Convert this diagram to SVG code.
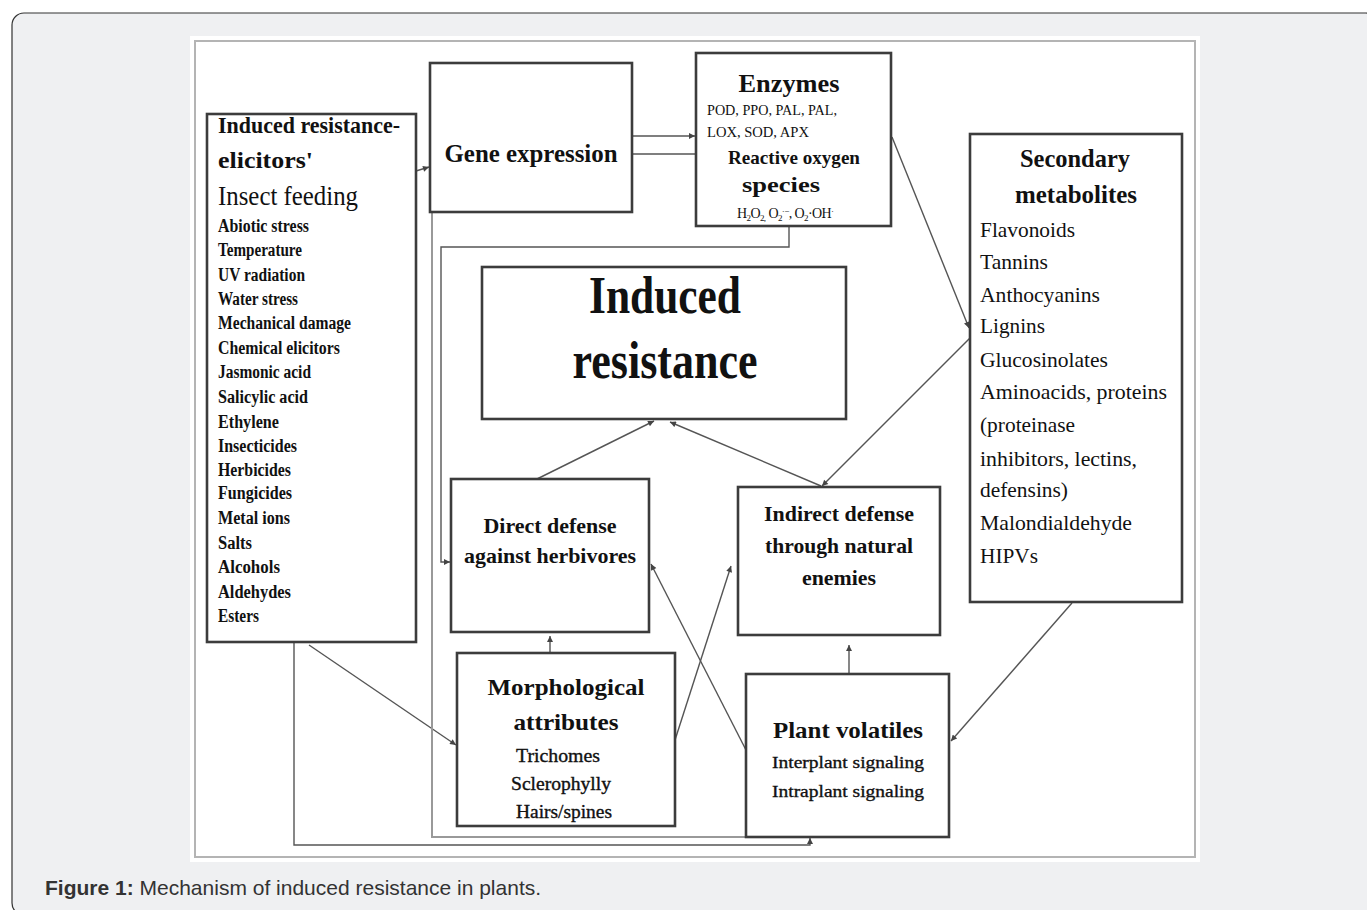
<svg xmlns="http://www.w3.org/2000/svg" width="1367" height="910" viewBox="0 0 1367 910">
<style>
.box{fill:#fff;stroke:#3c3c3c;stroke-width:2.6}
.t{font-family:"Liberation Serif","Times New Roman",serif;fill:#111}
.b{font-weight:bold}
.m{stroke:#111;stroke-width:0.35}
.c{text-anchor:middle}
.ln{fill:none;stroke:#555;stroke-width:1.4}
.gl{fill:none;stroke:#999;stroke-width:2}
.cap{font-family:"Liberation Sans",Arial,sans-serif;font-size:21px;fill:#333}
</style>
<defs>
<marker id="ah" viewBox="0 0 10 10" refX="10" refY="5" markerWidth="8" markerHeight="6" orient="auto" markerUnits="userSpaceOnUse"><path d="M0,0 L10,5 L0,10 z" fill="#444"/></marker>
</defs>
<rect x="12" y="13" width="1366" height="902" rx="12" fill="#eff0f2" stroke="#333" stroke-width="1.2"/>
<rect x="190" y="36" width="1010" height="826" fill="#fff"/>
<rect x="195" y="41" width="1000" height="816" fill="none" stroke="#b4b4b4" stroke-width="2"/>

<g id="connectors">
<line class="ln" x1="416" y1="171" x2="429" y2="167" marker-end="url(#ah)"/>
<line class="ln" x1="633" y1="136" x2="695" y2="136" marker-end="url(#ah)"/>
<line class="ln" x1="633" y1="154" x2="696" y2="154"/>
<line class="ln" x1="892" y1="137" x2="969" y2="328" marker-end="url(#ah)"/>
<line class="ln" x1="971" y1="337" x2="822" y2="486" marker-end="url(#ah)"/>
<line class="ln" x1="537" y1="479" x2="654" y2="421" marker-end="url(#ah)"/>
<line class="ln" x1="821" y1="486" x2="670" y2="422" marker-end="url(#ah)"/>
<polyline class="ln" points="789,227 789,247 441,247 441,562 450,562" marker-end="url(#ah)"/>
<line class="ln" x1="550" y1="653" x2="550" y2="636" marker-end="url(#ah)"/>
<line class="ln" x1="675" y1="740" x2="731" y2="566" marker-end="url(#ah)"/>
<line class="ln" x1="747" y1="752" x2="651" y2="564" marker-end="url(#ah)"/>
<line class="ln" x1="849" y1="673" x2="849" y2="645" marker-end="url(#ah)"/>
<line class="ln" x1="1072" y1="603" x2="951" y2="741" marker-end="url(#ah)"/>
<line class="ln" x1="309" y1="645" x2="456" y2="745" marker-end="url(#ah)"/>
<polyline class="gl" points="432,188 432,837 765,837 765,830" marker-end="url(#ah)"/>
<polyline class="ln" points="294,643 294,845 810,845 810,838" marker-end="url(#ah)"/>
</g>

<g id="elicitors">
<rect class="box" x="207" y="114" width="209" height="528"/>
<text class="t b" x="218" y="133" font-size="23" textLength="182" lengthAdjust="spacingAndGlyphs">Induced resistance-</text>
<text class="t b" x="218" y="168" font-size="23" textLength="95" lengthAdjust="spacingAndGlyphs">elicitors'</text>
<text class="t" x="218" y="205" font-size="27" textLength="140" lengthAdjust="spacingAndGlyphs">Insect feeding</text>
<g class="t b" font-size="18">
<text x="218" y="232" textLength="91" lengthAdjust="spacingAndGlyphs">Abiotic stress</text>
<text x="218" y="256" textLength="84" lengthAdjust="spacingAndGlyphs">Temperature</text>
<text x="218" y="281" textLength="87" lengthAdjust="spacingAndGlyphs">UV radiation</text>
<text x="218" y="305" textLength="80" lengthAdjust="spacingAndGlyphs">Water stress</text>
<text x="218" y="329" textLength="133" lengthAdjust="spacingAndGlyphs">Mechanical damage</text>
<text x="218" y="354" textLength="122" lengthAdjust="spacingAndGlyphs">Chemical elicitors</text>
<text x="218" y="378" textLength="93" lengthAdjust="spacingAndGlyphs">Jasmonic acid</text>
<text x="218" y="403" textLength="90" lengthAdjust="spacingAndGlyphs">Salicylic acid</text>
<text x="218" y="428" textLength="61" lengthAdjust="spacingAndGlyphs">Ethylene</text>
<text x="218" y="452" textLength="79" lengthAdjust="spacingAndGlyphs">Insecticides</text>
<text x="218" y="476" textLength="73" lengthAdjust="spacingAndGlyphs">Herbicides</text>
<text x="218" y="499" textLength="74" lengthAdjust="spacingAndGlyphs">Fungicides</text>
<text x="218" y="524" textLength="72" lengthAdjust="spacingAndGlyphs">Metal ions</text>
<text x="218" y="549" textLength="34" lengthAdjust="spacingAndGlyphs">Salts</text>
<text x="218" y="573" textLength="62" lengthAdjust="spacingAndGlyphs">Alcohols</text>
<text x="218" y="598" textLength="73" lengthAdjust="spacingAndGlyphs">Aldehydes</text>
<text x="218" y="622" textLength="41" lengthAdjust="spacingAndGlyphs">Esters</text>
</g>
</g>

<g id="gene-expression">
<rect class="box" x="430" y="63" width="202" height="149"/>
<text class="t b c" x="531" y="162" font-size="26" textLength="173" lengthAdjust="spacingAndGlyphs">Gene expression</text>
</g>

<g id="enzymes">
<rect class="box" x="696" y="53" width="195" height="173"/>
<text class="t b c" x="789" y="92" font-size="26" textLength="101" lengthAdjust="spacingAndGlyphs">Enzymes</text>
<text class="t" x="707" y="115" font-size="15" textLength="130" lengthAdjust="spacingAndGlyphs">POD, PPO, PAL, PAL,</text>
<text class="t" x="707" y="137" font-size="15" textLength="102" lengthAdjust="spacingAndGlyphs">LOX, SOD, APX</text>
<text class="t b c" x="794" y="164" font-size="19" textLength="132" lengthAdjust="spacingAndGlyphs">Reactive oxygen</text>
<text class="t b c" x="781" y="192" font-size="21" textLength="78" lengthAdjust="spacingAndGlyphs">species</text>
<text class="t" x="737" y="218" font-size="14" letter-spacing="-0.6">H<tspan font-size="9" dy="3">2</tspan><tspan dy="-3">O</tspan><tspan font-size="9" dy="3">2,</tspan><tspan dy="-3"> O</tspan><tspan font-size="9" dy="3">2</tspan><tspan font-size="9" dy="-7">·−</tspan><tspan dy="4">, O</tspan><tspan font-size="9" dy="3">2</tspan><tspan dy="-3">·OH</tspan><tspan font-size="9" dy="-4">·</tspan></text>
</g>

<g id="secondary-metabolites">
<rect class="box" x="970" y="134" width="212" height="468"/>
<text class="t b c" x="1075" y="167" font-size="25" textLength="110" lengthAdjust="spacingAndGlyphs">Secondary</text>
<text class="t b c" x="1076" y="203" font-size="25" textLength="122" lengthAdjust="spacingAndGlyphs">metabolites</text>
<g class="t" font-size="21">
<text x="980" y="237" textLength="95" lengthAdjust="spacingAndGlyphs">Flavonoids</text>
<text x="980" y="269" textLength="68" lengthAdjust="spacingAndGlyphs">Tannins</text>
<text x="980" y="302" textLength="120" lengthAdjust="spacingAndGlyphs">Anthocyanins</text>
<text x="980" y="333" textLength="65" lengthAdjust="spacingAndGlyphs">Lignins</text>
<text x="980" y="367" textLength="128" lengthAdjust="spacingAndGlyphs">Glucosinolates</text>
<text x="980" y="399" textLength="187" lengthAdjust="spacingAndGlyphs">Aminoacids, proteins</text>
<text x="980" y="432" textLength="95" lengthAdjust="spacingAndGlyphs">(proteinase</text>
<text x="980" y="466" textLength="157" lengthAdjust="spacingAndGlyphs">inhibitors, lectins,</text>
<text x="980" y="497" textLength="88" lengthAdjust="spacingAndGlyphs">defensins)</text>
<text x="980" y="530" textLength="152" lengthAdjust="spacingAndGlyphs">Malondialdehyde</text>
<text x="980" y="563" textLength="58" lengthAdjust="spacingAndGlyphs">HIPVs</text>
</g>
</g>

<g id="induced-resistance">
<rect class="box" x="482" y="267" width="364" height="152"/>
<text class="t b c" x="665" y="313" font-size="52" textLength="152" lengthAdjust="spacingAndGlyphs">Induced</text>
<text class="t b c" x="665" y="378" font-size="52" textLength="185" lengthAdjust="spacingAndGlyphs">resistance</text>
</g>

<g id="direct-defense">
<rect class="box" x="451" y="479" width="198" height="153"/>
<text class="t b c" x="550" y="533" font-size="21" textLength="133" lengthAdjust="spacingAndGlyphs">Direct defense</text>
<text class="t b c" x="550" y="563" font-size="21" textLength="172" lengthAdjust="spacingAndGlyphs">against herbivores</text>
</g>

<g id="indirect-defense">
<rect class="box" x="738" y="487" width="202" height="148"/>
<text class="t b c" x="839" y="521" font-size="21" textLength="150" lengthAdjust="spacingAndGlyphs">Indirect defense</text>
<text class="t b c" x="839" y="553" font-size="21" textLength="148" lengthAdjust="spacingAndGlyphs">through natural</text>
<text class="t b c" x="839" y="585" font-size="21" textLength="74" lengthAdjust="spacingAndGlyphs">enemies</text>
</g>

<g id="morphological">
<rect class="box" x="457" y="653" width="218" height="173"/>
<text class="t b c" x="566" y="695" font-size="24" textLength="157" lengthAdjust="spacingAndGlyphs">Morphological</text>
<text class="t b c" x="566" y="730" font-size="24" textLength="105" lengthAdjust="spacingAndGlyphs">attributes</text>
<text class="t m c" x="558" y="762" font-size="18" textLength="84" lengthAdjust="spacingAndGlyphs">Trichomes</text>
<text class="t m c" x="561" y="790" font-size="18" textLength="100" lengthAdjust="spacingAndGlyphs">Sclerophylly</text>
<text class="t m c" x="564" y="818" font-size="18" textLength="96" lengthAdjust="spacingAndGlyphs">Hairs/spines</text>
</g>

<g id="plant-volatiles">
<rect class="box" x="746" y="674" width="203" height="163"/>
<text class="t b c" x="848" y="738" font-size="24" textLength="150" lengthAdjust="spacingAndGlyphs">Plant volatiles</text>
<text class="t m c" x="848" y="768" font-size="17" textLength="152" lengthAdjust="spacingAndGlyphs">Interplant signaling</text>
<text class="t m c" x="848" y="797" font-size="17" textLength="152" lengthAdjust="spacingAndGlyphs">Intraplant signaling</text>
</g>

<text class="cap" x="45" y="895"><tspan font-weight="bold">Figure 1:</tspan> Mechanism of induced resistance in plants.</text>
</svg>
